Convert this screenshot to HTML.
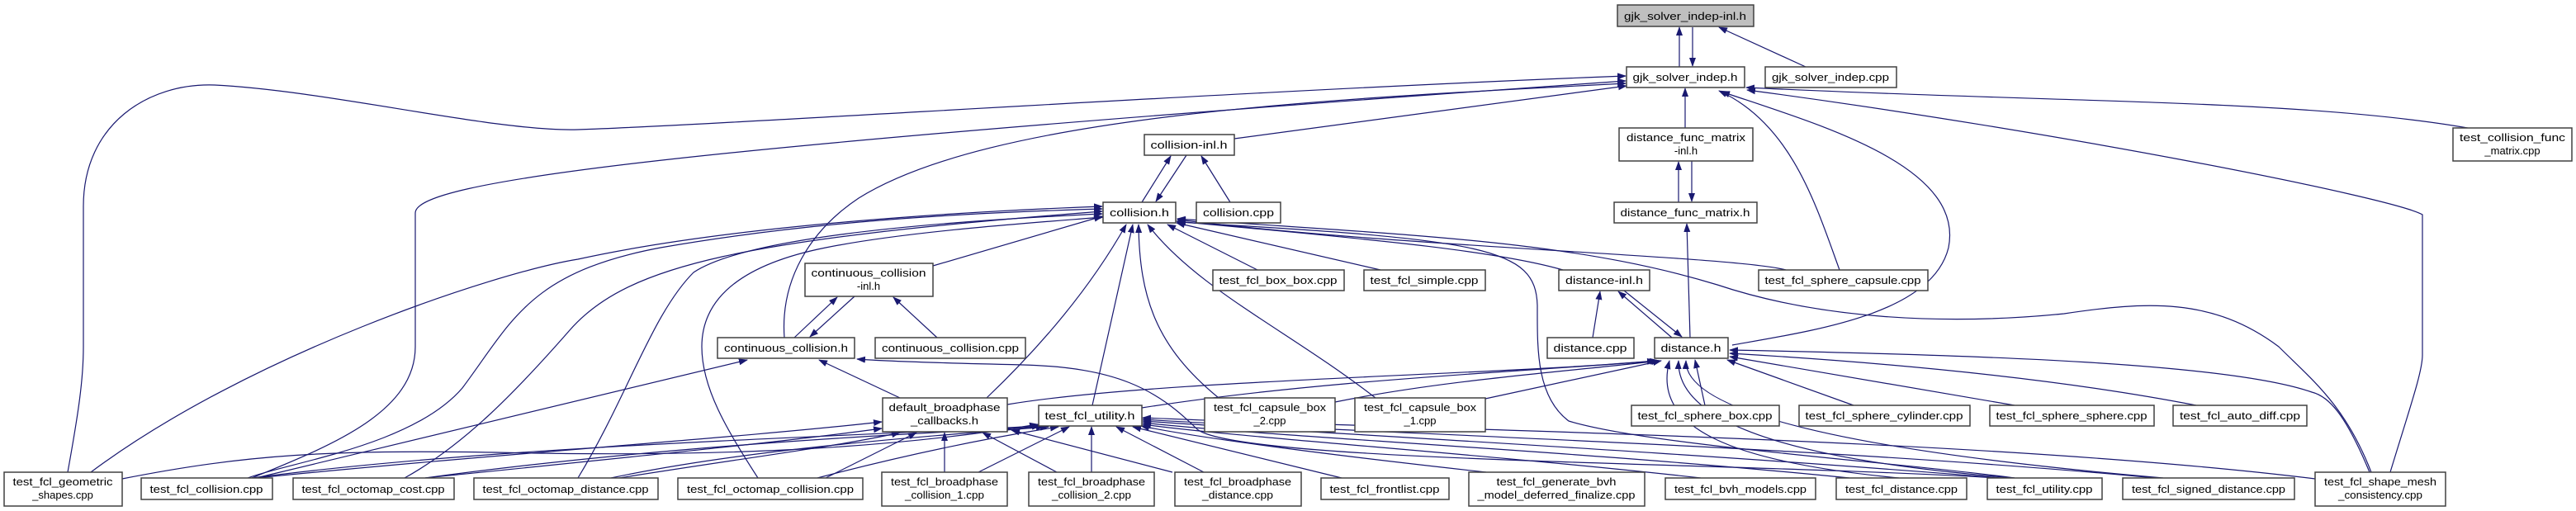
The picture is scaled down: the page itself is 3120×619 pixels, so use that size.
<!DOCTYPE html>
<html><head><meta charset="utf-8"><style>
html,body{margin:0;padding:0;background:#fff;}
svg{display:block;}
text{font-family:"Liberation Sans",sans-serif;font-size:13px;fill:#000;text-anchor:middle;}
.n{fill:#fff;stroke:#404040;stroke-width:1.5;}
.e{fill:none;stroke:#191970;stroke-width:1.2;}
</style></head><body>
<svg width="3120" height="619" viewBox="0 0 3120 619" xmlns="http://www.w3.org/2000/svg">
<defs><marker id="a" markerUnits="userSpaceOnUse" markerWidth="11" markerHeight="8" refX="10" refY="4" orient="auto"><path d="M0,0 L11,4 L0,8 z" fill="#191970"/></marker></defs>
<g class="e" marker-end="url(#a)">
<path d="M2034,81 L2034,33"/>
<path d="M2050,33 L2050,80"/>
<path d="M2187,81 L2082,33"/>
<path d="M1495,168 L1970,104"/>
<path d="M2041,155 L2041,107"/>
<path d="M3000,157 C2800,120 2500,125 2115,106"/>
<path d="M2895,572 C2920,490 2934,450 2934,430 L2934,260 C2900,240 2500,160 2116,109"/>
<path d="M2228,327 C2200,250 2170,150 2082,110"/>
<path d="M2098,418 C2200,400 2340,380 2360,300 C2380,200 2200,150 2085,111"/>
<path d="M82,572 C95,500 101,460 101,420 L101,250 C101,150 180,100 260,103 C400,110 600,160 700,157 C900,150 1500,110 1969,92"/>
<path d="M305,579 C400,540 503,500 503,420 L503,258 C503,220 800,180 1969,98"/>
<path d="M950,409 C945,340 980,280 1040,240 C1200,140 1600,120 1969,101"/>
<path d="M1383,245 L1418,189"/>
<path d="M1437,188 L1400,244"/>
<path d="M1490,245 L1455,189"/>
<path d="M2033,245 L2033,196"/>
<path d="M2049,195 L2049,244"/>
<path d="M2047,409 L2043,271"/>
<path d="M2025,409 L1960,353"/>
<path d="M1967,352 L2037,408"/>
<path d="M1929,409 L1938,353"/>
<path d="M962,409 L1014,360"/>
<path d="M1035,359 L981,408"/>
<path d="M1135,409 L1082,360"/>
<path d="M1130,322 L1335,262"/>
<path d="M110,572 C300,430 600,330 700,314 C900,270 1200,255 1335,250"/>
<path d="M300,579 C350,560 500,540 560,470 C620,390 640,330 800,300 C1000,265 1200,257 1335,253"/>
<path d="M490,579 C560,540 620,480 690,400 C760,320 900,290 1335,256"/>
<path d="M700,579 C760,480 790,380 840,330 C900,290 1100,270 1335,259"/>
<path d="M918,579 C880,520 850,470 850,420 C850,360 900,320 1000,300 C1100,280 1250,270 1336,263"/>
<path d="M1195,482 C1260,420 1320,350 1364,272"/>
<path d="M1323,491 L1372,272"/>
<path d="M1476,482 C1400,420 1380,360 1379,272"/>
<path d="M1666,482 C1560,400 1450,350 1390,272"/>
<path d="M1523,327 L1414,272"/>
<path d="M1672,327 L1425,270"/>
<path d="M1893,327 C1800,300 1600,285 1425,268"/>
<path d="M2163,327 C2100,310 1700,300 1426,266"/>
<path d="M2872,572 C2840,490 2800,460 2760,420 C2680,360 2600,365 2500,380 C2350,395 2200,385 2080,345 C1900,290 1700,285 1426,265"/>
<path d="M2440,579 C2300,560 2000,540 1900,510 C1860,480 1862,420 1862,370 C1860,300 1800,290 1426,269"/>
<path d="M1090,482 L992,436"/>
<path d="M310,579 L905,436"/>
<path d="M2420,579 C2100,560 1500,560 1450,520 C1400,470 1350,445 1239,442 C1150,440 1080,438 1038,435"/>
<path d="M1220,490 C1400,460 1800,455 2005,437"/>
<path d="M1383,494 C1600,460 1850,450 2008,437"/>
<path d="M1617,487 C1750,460 1900,450 2010,437"/>
<path d="M1799,483 L2012,437"/>
<path d="M2065,491 L2053,436"/>
<path d="M2245,491 L2092,436"/>
<path d="M2440,491 L2095,432"/>
<path d="M2660,491 C2500,460 2300,440 2095,428"/>
<path d="M2870,572 C2840,500 2820,480 2800,475 C2700,440 2400,430 2095,424"/>
<path d="M2300,579 C2100,560 2000,520 2022,437"/>
<path d="M2440,579 C2200,560 2030,520 2033,437"/>
<path d="M2620,579 C2400,560 2040,520 2042,437"/>
<path d="M148,580 C300,550 400,545 600,548 C900,555 1100,540 1257,514"/>
<path d="M305,579 C600,540 1000,530 1260,516"/>
<path d="M515,579 C800,540 1100,525 1265,517"/>
<path d="M740,579 C900,545 1100,530 1270,517"/>
<path d="M990,579 C1100,550 1200,530 1282,517"/>
<path d="M1185,572 L1295,517"/>
<path d="M1322,572 L1322,517"/>
<path d="M1458,572 L1352,517"/>
<path d="M1625,579 L1372,517"/>
<path d="M1800,572 C1600,550 1450,530 1382,516"/>
<path d="M2060,579 C1800,550 1500,530 1384,514"/>
<path d="M2240,579 C1900,545 1550,530 1384,512"/>
<path d="M2425,579 C2000,545 1600,525 1384,510"/>
<path d="M2610,579 C2200,540 1650,525 1384,508"/>
<path d="M2804,580 C2400,530 1700,520 1384,506"/>
<path d="M310,579 C600,550 900,530 1068,511"/>
<path d="M515,579 C800,550 950,535 1068,519"/>
<path d="M750,579 C900,555 1020,540 1090,524"/>
<path d="M1000,579 L1110,524"/>
<path d="M1144,572 L1144,524"/>
<path d="M1280,572 L1190,524"/>
<path d="M1420,572 L1225,521"/>
</g>
<g>
<rect class="n" x="1959" y="6" width="165" height="26" style="fill:#bfbfbf"/><text x="2041" y="24" textLength="148" lengthAdjust="spacingAndGlyphs">gjk_solver_indep-inl.h</text>
<rect class="n" x="1970" y="81" width="143" height="25"/><text x="2041" y="98" textLength="127" lengthAdjust="spacingAndGlyphs">gjk_solver_indep.h</text>
<rect class="n" x="2138" y="81" width="159" height="25"/><text x="2217" y="98" textLength="142" lengthAdjust="spacingAndGlyphs">gjk_solver_indep.cpp</text>
<rect class="n" x="1961" y="155" width="162" height="40"/><text x="2042" y="171" textLength="144" lengthAdjust="spacingAndGlyphs">distance_func_matrix</text><text x="2042" y="187">-inl.h</text>
<rect class="n" x="2971" y="155" width="144" height="40"/><text x="3043" y="171" textLength="128" lengthAdjust="spacingAndGlyphs">test_collision_func</text><text x="3043" y="187">_matrix.cpp</text>
<rect class="n" x="1386" y="163" width="109" height="25"/><text x="1440" y="180" textLength="93" lengthAdjust="spacingAndGlyphs">collision-inl.h</text>
<rect class="n" x="1336" y="245" width="88" height="25"/><text x="1380" y="262" textLength="72" lengthAdjust="spacingAndGlyphs">collision.h</text>
<rect class="n" x="1449" y="245" width="102" height="25"/><text x="1500" y="262" textLength="86" lengthAdjust="spacingAndGlyphs">collision.cpp</text>
<rect class="n" x="1955" y="245" width="173" height="25"/><text x="2041" y="262" textLength="157" lengthAdjust="spacingAndGlyphs">distance_func_matrix.h</text>
<rect class="n" x="975" y="319" width="155" height="40"/><text x="1052" y="335" textLength="139" lengthAdjust="spacingAndGlyphs">continuous_collision</text><text x="1052" y="351">-inl.h</text>
<rect class="n" x="1469" y="327" width="159" height="25"/><text x="1548" y="344" textLength="143" lengthAdjust="spacingAndGlyphs">test_fcl_box_box.cpp</text>
<rect class="n" x="1652" y="327" width="147" height="25"/><text x="1725" y="344" textLength="131" lengthAdjust="spacingAndGlyphs">test_fcl_simple.cpp</text>
<rect class="n" x="1888" y="327" width="110" height="25"/><text x="1943" y="344" textLength="94" lengthAdjust="spacingAndGlyphs">distance-inl.h</text>
<rect class="n" x="2130" y="327" width="205" height="25"/><text x="2232" y="344" textLength="189" lengthAdjust="spacingAndGlyphs">test_fcl_sphere_capsule.cpp</text>
<rect class="n" x="869" y="409" width="166" height="25"/><text x="952" y="426" textLength="150" lengthAdjust="spacingAndGlyphs">continuous_collision.h</text>
<rect class="n" x="1060" y="409" width="182" height="25"/><text x="1151" y="426" textLength="166" lengthAdjust="spacingAndGlyphs">continuous_collision.cpp</text>
<rect class="n" x="1874" y="409" width="105" height="25"/><text x="1926" y="426" textLength="89" lengthAdjust="spacingAndGlyphs">distance.cpp</text>
<rect class="n" x="2004" y="409" width="89" height="25"/><text x="2048" y="426" textLength="73" lengthAdjust="spacingAndGlyphs">distance.h</text>
<rect class="n" x="1069" y="482" width="151" height="41"/><text x="1144" y="498" textLength="135" lengthAdjust="spacingAndGlyphs">default_broadphase</text><text x="1144" y="514" textLength="82" lengthAdjust="spacingAndGlyphs">_callbacks.h</text>
<rect class="n" x="1258" y="491" width="125" height="25"/><text x="1320" y="508" textLength="109" lengthAdjust="spacingAndGlyphs">test_fcl_utility.h</text>
<rect class="n" x="1459" y="482" width="158" height="41"/><text x="1538" y="498" textLength="136" lengthAdjust="spacingAndGlyphs">test_fcl_capsule_box</text><text x="1538" y="514">_2.cpp</text>
<rect class="n" x="1641" y="482" width="158" height="41"/><text x="1720" y="498" textLength="136" lengthAdjust="spacingAndGlyphs">test_fcl_capsule_box</text><text x="1720" y="514">_1.cpp</text>
<rect class="n" x="1976" y="491" width="179" height="25"/><text x="2065" y="508" textLength="163" lengthAdjust="spacingAndGlyphs">test_fcl_sphere_box.cpp</text>
<rect class="n" x="2179" y="491" width="207" height="25"/><text x="2282" y="508" textLength="191" lengthAdjust="spacingAndGlyphs">test_fcl_sphere_cylinder.cpp</text>
<rect class="n" x="2410" y="491" width="199" height="25"/><text x="2509" y="508" textLength="183" lengthAdjust="spacingAndGlyphs">test_fcl_sphere_sphere.cpp</text>
<rect class="n" x="2632" y="491" width="162" height="25"/><text x="2713" y="508" textLength="146" lengthAdjust="spacingAndGlyphs">test_fcl_auto_diff.cpp</text>
<rect class="n" x="5" y="572" width="143" height="41"/><text x="76" y="588" textLength="121" lengthAdjust="spacingAndGlyphs">test_fcl_geometric</text><text x="76" y="604">_shapes.cpp</text>
<rect class="n" x="171" y="579" width="159" height="26"/><text x="250" y="597" textLength="137" lengthAdjust="spacingAndGlyphs">test_fcl_collision.cpp</text>
<rect class="n" x="355" y="579" width="195" height="26"/><text x="452" y="597" textLength="173" lengthAdjust="spacingAndGlyphs">test_fcl_octomap_cost.cpp</text>
<rect class="n" x="574" y="579" width="223" height="26"/><text x="685" y="597" textLength="201" lengthAdjust="spacingAndGlyphs">test_fcl_octomap_distance.cpp</text>
<rect class="n" x="821" y="579" width="224" height="26"/><text x="933" y="597" textLength="202" lengthAdjust="spacingAndGlyphs">test_fcl_octomap_collision.cpp</text>
<rect class="n" x="1068" y="572" width="152" height="41"/><text x="1144" y="588" textLength="130" lengthAdjust="spacingAndGlyphs">test_fcl_broadphase</text><text x="1144" y="604" textLength="96" lengthAdjust="spacingAndGlyphs">_collision_1.cpp</text>
<rect class="n" x="1246" y="572" width="152" height="41"/><text x="1322" y="588" textLength="130" lengthAdjust="spacingAndGlyphs">test_fcl_broadphase</text><text x="1322" y="604" textLength="96" lengthAdjust="spacingAndGlyphs">_collision_2.cpp</text>
<rect class="n" x="1423" y="572" width="153" height="41"/><text x="1499" y="588" textLength="130" lengthAdjust="spacingAndGlyphs">test_fcl_broadphase</text><text x="1499" y="604" textLength="86" lengthAdjust="spacingAndGlyphs">_distance.cpp</text>
<rect class="n" x="1600" y="579" width="155" height="26"/><text x="1677" y="597" textLength="133" lengthAdjust="spacingAndGlyphs">test_fcl_frontlist.cpp</text>
<rect class="n" x="1779" y="572" width="213" height="41"/><text x="1885" y="588" textLength="145" lengthAdjust="spacingAndGlyphs">test_fcl_generate_bvh</text><text x="1885" y="604" textLength="191" lengthAdjust="spacingAndGlyphs">_model_deferred_finalize.cpp</text>
<rect class="n" x="2017" y="579" width="182" height="26"/><text x="2108" y="597" textLength="160" lengthAdjust="spacingAndGlyphs">test_fcl_bvh_models.cpp</text>
<rect class="n" x="2224" y="579" width="158" height="26"/><text x="2303" y="597" textLength="136" lengthAdjust="spacingAndGlyphs">test_fcl_distance.cpp</text>
<rect class="n" x="2407" y="579" width="139" height="26"/><text x="2476" y="597" textLength="117" lengthAdjust="spacingAndGlyphs">test_fcl_utility.cpp</text>
<rect class="n" x="2571" y="579" width="208" height="26"/><text x="2675" y="597" textLength="186" lengthAdjust="spacingAndGlyphs">test_fcl_signed_distance.cpp</text>
<rect class="n" x="2804" y="572" width="158" height="41"/><text x="2883" y="588" textLength="136" lengthAdjust="spacingAndGlyphs">test_fcl_shape_mesh</text><text x="2883" y="604" textLength="102" lengthAdjust="spacingAndGlyphs">_consistency.cpp</text>
</g>
</svg>
</body></html>
